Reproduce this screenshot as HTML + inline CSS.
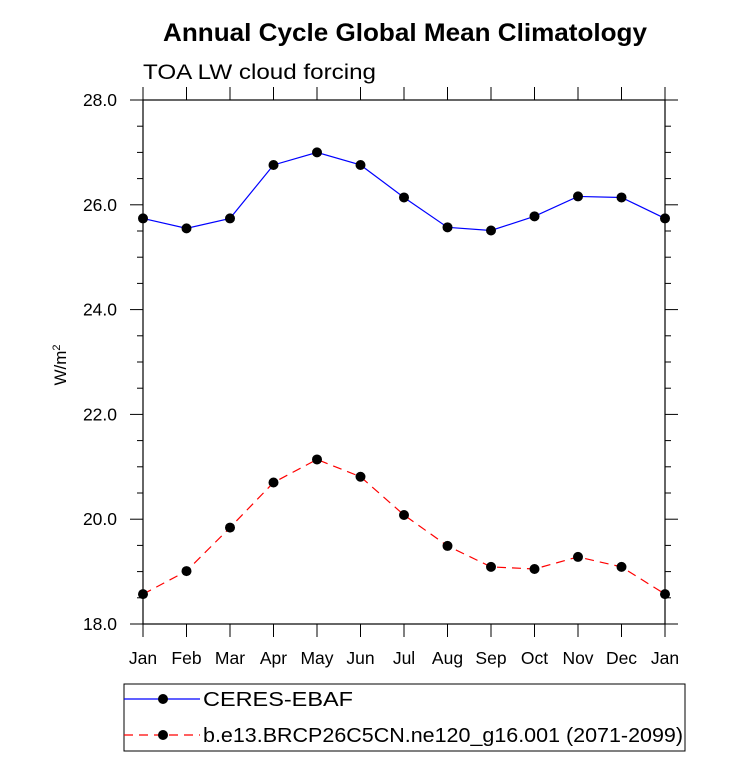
<!DOCTYPE html>
<html><head><meta charset="utf-8"><style>
body{margin:0;background:#fff;}
svg text{font-family:"Liberation Sans",Arial,sans-serif;}
</style></head><body>
<svg id="c" width="733" height="759" xmlns="http://www.w3.org/2000/svg">
<text x="163" y="41" textLength="484" lengthAdjust="spacingAndGlyphs" font-size="25" font-weight="bold">Annual Cycle Global Mean Climatology</text>
<text x="143" y="79" textLength="233" lengthAdjust="spacingAndGlyphs" font-size="21">TOA LW cloud forcing</text>
<text transform="translate(66,365) rotate(-90)" text-anchor="middle" font-size="17">W/m<tspan dy="-6" font-size="11">2</tspan></text>
<g id="axes"></g><g id="series"></g>
<g>
<rect x="124" y="684" width="561" height="67" fill="none" stroke="#000" stroke-width="1"/>
<line x1="124" y1="699" x2="200" y2="699" stroke="#0000ff" stroke-width="1.2"/>
<circle cx="163" cy="699" r="5" fill="#000"/>
<text x="203" y="706" textLength="150" lengthAdjust="spacingAndGlyphs" font-size="20">CERES-EBAF</text>
<line x1="124" y1="735" x2="200" y2="735" stroke="#ff0000" stroke-width="1.2" stroke-dasharray="9,6"/>
<circle cx="163" cy="735" r="5" fill="#000"/>
<text x="203" y="742" textLength="480" lengthAdjust="spacingAndGlyphs" font-size="20">b.e13.BRCP26C5CN.ne120_g16.001 (2071-2099)</text>
</g>
</svg>
<script>
const months=["Jan","Feb","Mar","Apr","May","Jun","Jul","Aug","Sep","Oct","Nov","Dec","Jan"];
const ceres=[25.74,25.55,25.74,26.76,27.0,26.76,26.14,25.57,25.51,25.78,26.16,26.14,25.74];
const model=[18.57,19.01,19.84,20.70,21.14,20.81,20.08,19.49,19.09,19.05,19.28,19.09,18.57];
const yTicks=[18,20,22,24,26,28];
const L=143,R=665,T=100,B=624,ymin=18,ymax=28;
const xs=i=>L+(R-L)*i/12;
const ys=v=>B-(B-T)*(v-ymin)/(ymax-ymin);
const NS="http://www.w3.org/2000/svg";
function mk(tag,attrs,parent){const e=document.createElementNS(NS,tag);for(const k in attrs)e.setAttribute(k,attrs[k]);parent.appendChild(e);return e;}
const ax=document.getElementById('axes');
const box=mk('rect',{x:L,y:T,width:R-L,height:B-T,fill:'none',stroke:'#000','stroke-width':1.2},ax);


for(let v=ymin;v<=ymax+1e-9;v+=0.5){const maj=Math.abs(v/2-Math.round(v/2))<1e-9;const l=maj?13:6;
mk('line',{x1:L-l,y1:ys(v),x2:L,y2:ys(v),stroke:'#000'},ax);mk('line',{x1:R,y1:ys(v),x2:R+l,y2:ys(v),stroke:'#000'},ax);}
yTicks.forEach(v=>{const t=mk('text',{x:L-26,y:ys(v)+6,'text-anchor':'end','font-size':17.5},ax);t.textContent=v.toFixed(1);

});
months.forEach((m,i)=>{const x=xs(i);mk('line',{x1:x,y1:B,x2:x,y2:B+13,stroke:'#000'},ax);mk('line',{x1:x,y1:T-13,x2:x,y2:T,stroke:'#000'},ax);
const t=mk('text',{x:x,y:B+40,'text-anchor':'middle','font-size':17.5},ax);t.textContent=m;

});
const sg=document.getElementById('series');
function series(vals,color,dash,name){
const p=mk('polyline',{points:vals.map((v,i)=>xs(i)+','+ys(v)).join(' '),fill:'none',stroke:color,'stroke-width':1.2,'stroke-dasharray':dash},sg);


vals.forEach((v,i)=>{const c=mk('circle',{cx:xs(i),cy:ys(v),r:5,fill:'#000'},sg);

});}
series(ceres,'#0000ff','none','ceres');
series(model,'#ff0000','9,6','model');
</script>
</body></html>
